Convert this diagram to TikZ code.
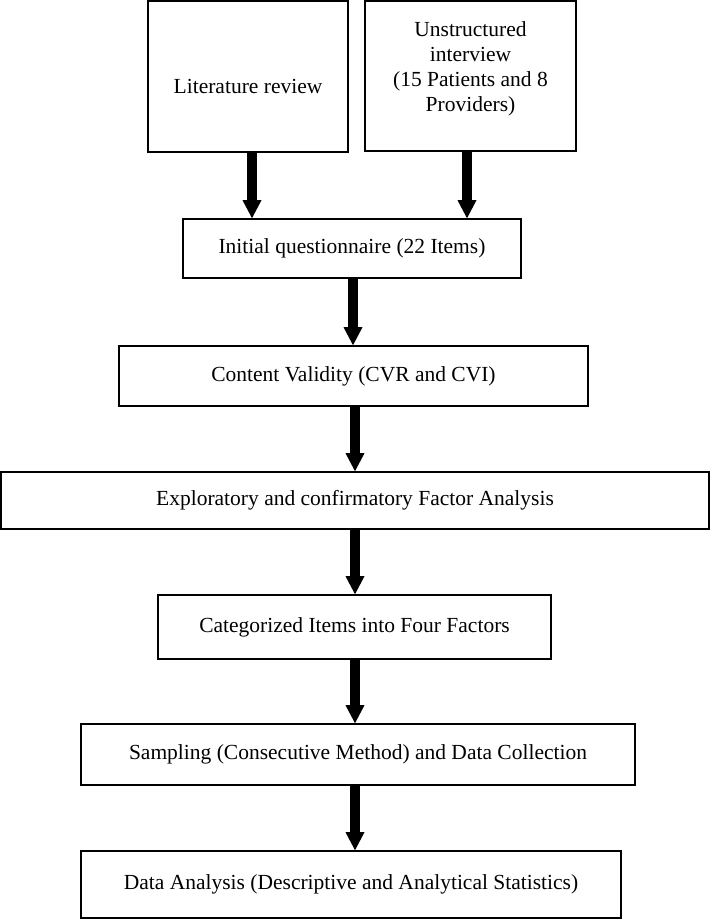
\documentclass[tikz,border=0pt]{standalone}
\usepackage{fontspec}
\setmainfont{Liberation Serif}
\usetikzlibrary{arrows.meta}
\begin{document}
\begin{tikzpicture}[x=1pt,y=-1pt,
  box/.style={draw=black, line width=1.6pt, inner sep=0pt, align=center,
    font=\fontsize{21.5}{25}\selectfont},
  txt/.style={inner sep=0pt, align=center, font=\fontsize{21.5}{25}\selectfont},
  flow/.style={line width=10pt, -{Triangle[length=18pt,width=19pt,line width=0pt]}}]
\useasboundingbox (0,0) rectangle (710,920);

% top boxes
\node[box, minimum width=200pt, minimum height=151pt] (lit) at (248,76.5) {};
\node[txt] (littext) at (248,86.5) {Literature review};
\node[box, minimum width=211pt, minimum height=150pt] (uns) at (470.5,76) {};
\node[txt] (unstext) at (470.5,69) {Unstructured\\interview\\(15 Patients and 8\\Providers)};

% main chain
\node[box, minimum width=338pt, minimum height=59pt] (ini) at (352,248.5) {Initial questionnaire (22 Items)};
\node[box, minimum width=469pt, minimum height=60pt] (cv) at (353.5,376) {Content Validity (CVR and CVI)};
\node[box, minimum width=708pt, minimum height=57pt] (efa) at (355,500.5) {Exploratory and confirmatory Factor Analysis};
\node[box, minimum width=393pt, minimum height=64pt] (cat) at (354.5,627) {Categorized Items into Four Factors};
\node[box, minimum width=554pt, minimum height=61pt] (samp) at (358,754.5) {Sampling (Consecutive Method) and Data Collection};
\node[box, minimum width=540pt, minimum height=67pt] (da) at (351,884.5) {Data Analysis (Descriptive and Analytical Statistics)};

% connectors
\draw[flow] ([xshift=4pt]lit.south) -- ([xshift=4pt]lit.south |- ini.north);
\draw[flow] ([xshift=-3.5pt]uns.south) -- ([xshift=-3.5pt]uns.south |- ini.north);
\draw[flow] ([xshift=1pt]ini.south) -- ([xshift=1pt]ini.south |- cv.north);
\draw[flow] ([xshift=1.5pt]cv.south) -- ([xshift=1.5pt]cv.south |- efa.north);
\draw[flow] (efa.south) -- (efa.south |- cat.north);
\draw[flow] ([xshift=0.5pt]cat.south) -- ([xshift=0.5pt]cat.south |- samp.north);
\draw[flow] ([xshift=-3pt]samp.south) -- ([xshift=-3pt]samp.south |- da.north);
\end{tikzpicture}
\end{document}
